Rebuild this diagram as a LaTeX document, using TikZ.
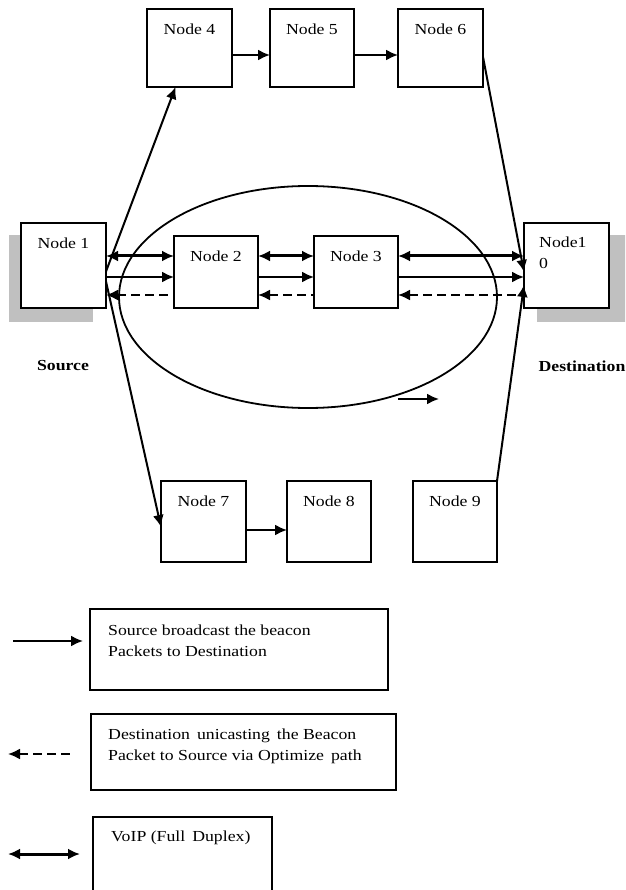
\documentclass[tikz,border=0pt]{standalone}
\usepackage{fontspec}
\setmainfont{Liberation Serif}[FakeStretch=1.16]
\usetikzlibrary{arrows.meta,shapes.geometric,calc}
\definecolor{shadowgray}{RGB}{192,192,192}
\begin{document}
\begin{tikzpicture}[x=1pt,y=-1pt,
  font=\fontsize{15.3}{21}\selectfont,
  box/.style={draw,line width=2pt,fill=white,inner sep=0pt,outer sep=0pt},
  lbl/.style={inner sep=0pt},
  tip/.style={-{Latex[length=12pt,width=11pt]}},
  fwd/.style={line width=2pt,tip},
  dbl/.style={line width=3pt,{Latex[length=12pt,width=11pt]}-{Latex[length=12pt,width=11pt]}},
  back/.style={line width=2pt,dash pattern=on 9pt off 5pt,{Latex[length=12pt,width=11pt]}-},
  legbox/.style={draw,line width=1.8pt,inner sep=0pt,outer sep=0pt}]
\useasboundingbox (0,0) rectangle (625,890);
\clip (0,0) rectangle (625,890);
% shadows
\fill[shadowgray] (9,235) rectangle (93,322);
\fill[shadowgray] (537,235) rectangle (627,322);
% ellipse
\node[draw,ellipse,line width=1.8pt,minimum width=378pt,minimum height=222pt,inner sep=0pt] (ell) at (308,297) {};
% nodes
\node[box,minimum width=85pt,minimum height=85pt] (n1) at (63.5,265.5) {};
\node[box,minimum width=84pt,minimum height=72pt] (n2) at (216,272) {};
\node[box,minimum width=84pt,minimum height=72pt] (n3) at (356,272) {};
\node[box,minimum width=85pt,minimum height=85pt] (n10) at (566.5,265.5) {};
\node[box,minimum width=85pt,minimum height=78pt] (n4) at (189.5,48) {};
\node[box,minimum width=84pt,minimum height=78pt] (n5) at (312,48) {};
\node[box,minimum width=85pt,minimum height=78pt] (n6) at (440.5,48) {};
\node[box,minimum width=85pt,minimum height=81pt] (n7) at (203.5,521.5) {};
\node[box,minimum width=84pt,minimum height=81pt] (n8) at (329,521.5) {};
\node[box,minimum width=84pt,minimum height=81pt] (n9) at (455,521.5) {};
% node labels
\node[lbl] at ($(n1.north)+(0,20)$) {Node 1};
\node[lbl] at ($(n2.north)+(0,20)$) {Node 2};
\node[lbl] at ($(n3.north)+(0,20)$) {Node 3};
\node[lbl] at ($(n4.north)+(0,20)$) {Node 4};
\node[lbl] at ($(n5.north)+(0,20)$) {Node 5};
\node[lbl] at ($(n6.north)+(0,20)$) {Node 6};
\node[lbl] at ($(n7.north)+(0,20)$) {Node 7};
\node[lbl] at ($(n8.north)+(0,20)$) {Node 8};
\node[lbl] at ($(n9.north)+(0,20)$) {Node 9};
\node[lbl,anchor=west,align=left] at (539,253) {Node1\\0};
% source / destination
\node[lbl,font=\fontsize{15.3}{18}\selectfont\bfseries] (src) at (63,366) {Source};
\node[lbl,font=\fontsize{15.3}{18}\selectfont\bfseries] (dst) at (582,366) {Destination};
% row coordinates
\coordinate (ra) at (0,256);
\coordinate (rb) at (0,277);
\coordinate (rc) at (0,295);
% horizontal arrows
\draw[dbl] (n1.east |- ra) -- (n2.west |- ra);
\draw[fwd] (n1.east |- rb) -- (n2.west |- rb);
\draw[back] (n1.east |- rc) -- (n2.west |- rc);
\draw[dbl] (n2.east |- ra) -- (n3.west |- ra);
\draw[fwd] (n2.east |- rb) -- (n3.west |- rb);
\draw[back] (n2.east |- rc) -- (n3.west |- rc);
\draw[dbl] (n3.east |- ra) -- (n10.west |- ra);
\draw[fwd] (n3.east |- rb) -- (n10.west |- rb);
\draw[back] (n3.east |- rc) -- (n10.west |- rc);
% slanted arrows
\draw[fwd] ([yshift=-6pt]n1.east) -- ([xshift=-14pt]n4.south);
\draw[fwd] ([yshift=-16pt]n1.east) -- ([yshift=-5.5pt]n7.west);
\draw[fwd] ([yshift=-9pt]n6.east) -- ([yshift=-6.5pt]n10.west);
\draw[fwd] (n9.north east) -- ([yshift=-19.5pt]n10.west);
% top and bottom chains
\draw[fwd] ([yshift=-7pt]n4.east) -- ([yshift=-7pt]n5.west);
\draw[fwd] ([yshift=-7pt]n5.east) -- ([yshift=-7pt]n6.west);
\draw[fwd] ([yshift=-8.5pt]n7.east) -- ([yshift=-8.5pt]n8.west);
% small arrow under ellipse
\coordinate (sa1) at (398,399);
\coordinate (sa2) at (439,399);
\draw[fwd] (sa1) -- (sa2);
% legend
\node[legbox,minimum width=298pt,minimum height=81pt] (lg1) at (239,649.5) {};
\node[lbl,anchor=west,align=left] (lt1) at (108,641) {Source broadcast the beacon\\Packets to Destination};
\coordinate (la1) at (13,641);
\coordinate (la2) at (83,641);
\draw[fwd] (la1) -- (la2);
\node[legbox,minimum width=305pt,minimum height=76pt] (lg2) at (243.5,752) {};
\node[lbl,anchor=west,align=left] (lt2) at (108,746) {Destination\, unicasting\, the Beacon\\Packet to Source via Optimize\, path};
\coordinate (lb1) at (8,754);
\coordinate (lb2) at (70,754);
\draw[back] (lb1) -- (lb2);
\node[legbox,minimum width=179pt,minimum height=80pt] (lg3) at (182.5,857) {};
\node[lbl,anchor=west] (lt3) at (111,838) {VoIP (Full\, Duplex)};
\coordinate (lc1) at (8,854);
\coordinate (lc2) at (80,854);
\draw[dbl] (lc1) -- (lc2);
\end{tikzpicture}
\end{document}
